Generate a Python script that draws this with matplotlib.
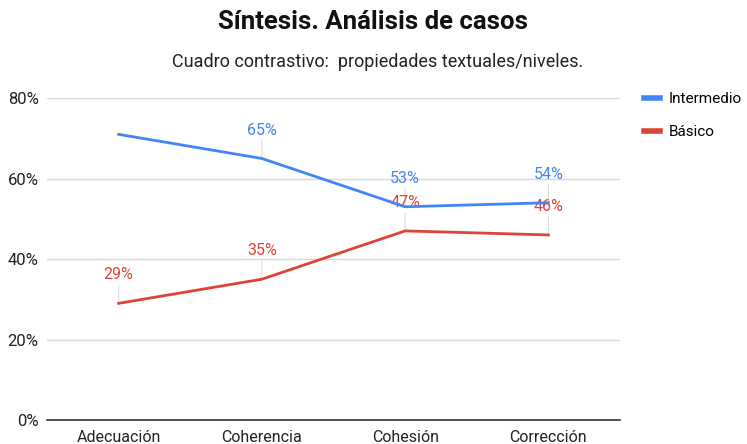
import matplotlib.pyplot as plt
from matplotlib.ticker import FuncFormatter

plt.rcParams['font.family'] = ['Roboto', 'DejaVu Sans']

# data
categories = ['Adecuación', 'Coherencia', 'Cohesión', 'Corrección']
intermedio = [71, 65, 53, 54]
basico = [29, 35, 47, 46]
# which points carry a data label
intermedio_labels = [False, True, True, True]
basico_labels = [True, True, True, True]

blue = '#4285F4'
red = '#DB4437'

fig = plt.figure(figsize=(7.47, 4.44), dpi=100)
ax = fig.add_axes([0.063, 0.054, 0.767, 0.725])

x = list(range(len(categories)))
ax.plot(x, intermedio, color=blue, lw=2, label='Intermedio', zorder=3)
ax.plot(x, basico, color=red, lw=2, label='Básico', zorder=3)

# data labels with thin leader lines
for values, flags, col in [(intermedio, intermedio_labels, blue),
                           (basico, basico_labels, red)]:
    for i, v in enumerate(values):
        if not flags[i]:
            continue
        ax.annotate(f'{v}%', xy=(i, v), xytext=(0, 20.5), textcoords='offset points',
                    ha='center', va='center', color=col, fontsize=11.5,
                    arrowprops=dict(arrowstyle='-', color='#dddddd', lw=0.8,
                                    shrinkA=0, shrinkB=0),
                    zorder=2)

ax.set_xlim(-0.5, len(categories) - 0.5)
ax.set_ylim(0, 80)
ax.set_yticks([0, 20, 40, 60, 80])
ax.yaxis.set_major_formatter(FuncFormatter(lambda v, p: f'{v:.0f}%'))
ax.set_xticks(x)
ax.set_xticklabels(categories)
ax.tick_params(axis='both', length=0, labelsize=11.5, colors='#222222')
ax.tick_params(axis='x', pad=7)
ax.tick_params(axis='y', pad=6, labelsize=12)

ax.grid(axis='y', color='#d9d9d9', lw=1)
ax.set_axisbelow(True)
for s in ['top', 'right', 'left']:
    ax.spines[s].set_visible(False)
ax.spines['bottom'].set_color('#333333')
ax.spines['bottom'].set_linewidth(1.2)

fig.text(0.5, 0.95, 'Síntesis. Análisis de casos', ha='center', va='center',
         fontsize=18.5, fontweight='bold', color='#111111')
fig.text(0.506, 0.86, 'Cuadro contrastivo:  propiedades textuales/niveles.',
         ha='center', va='center', fontsize=13, color='#222222')

ax.legend(loc='upper left', bbox_to_anchor=(1.024, 1.053), frameon=False,
          fontsize=11, handlelength=1.0, handleheight=0.3, labelspacing=1.25,
          handletextpad=0.6, borderaxespad=0.3)
for h in ax.get_legend().get_lines():
    h.set_linewidth(4)

fig.savefig('out.png', dpi=100)
